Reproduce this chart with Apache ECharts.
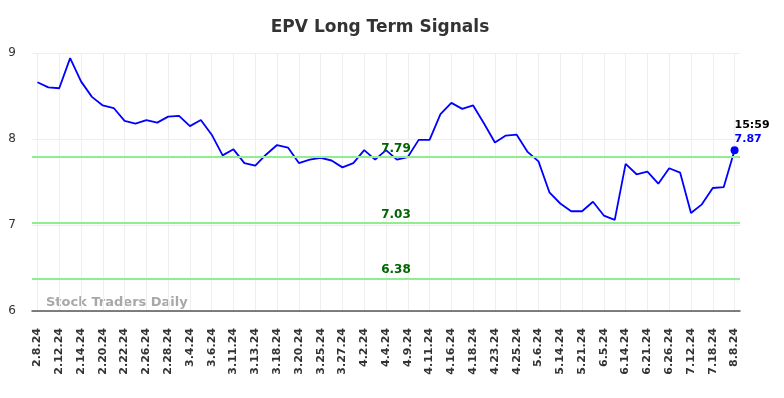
<!DOCTYPE html>
<html>
<head>
<meta charset="utf-8">
<script src="https://cdn.jsdelivr.net/npm/echarts@6/dist/echarts.min.js"></script>
<style>
  html, body { margin: 0; padding: 0; background: #fff; }
  #chart { width: 784px; height: 398px; }
</style>
</head>
<body>
<div id="chart"></div>
<script>
var fechas = ['2.8.24', '2.9.24', '2.12.24', '2.13.24', '2.14.24', '2.16.24', '2.20.24', '2.21.24',
    '2.22.24', '2.23.24', '2.26.24', '2.27.24', '2.28.24', '3.1.24', '3.4.24', '3.5.24',
    '3.6.24', '3.8.24', '3.11.24', '3.12.24', '3.13.24', '3.15.24', '3.18.24', '3.19.24',
    '3.20.24', '3.22.24', '3.25.24', '3.26.24', '3.27.24', '4.1.24', '4.2.24', '4.3.24',
    '4.4.24', '4.8.24', '4.9.24', '4.10.24', '4.11.24', '4.15.24', '4.16.24', '4.17.24',
    '4.18.24', '4.22.24', '4.23.24', '4.24.24', '4.25.24', '5.1.24', '5.6.24', '5.9.24',
    '5.14.24', '5.17.24', '5.21.24', '5.29.24', '6.5.24', '6.10.24', '6.14.24', '6.18.24',
    '6.21.24', '6.25.24', '6.26.24', '7.3.24', '7.12.24', '7.16.24', '7.18.24', '7.26.24',
    '8.8.24'];

var precios = [8.66, 8.60, 8.59, 8.94, 8.67, 8.49, 8.39, 8.36, 8.21, 8.18, 8.22, 8.19,
    8.26, 8.27, 8.15, 8.22, 8.05, 7.81, 7.88, 7.72, 7.69, 7.82, 7.93, 7.90,
    7.72, 7.76, 7.78, 7.75, 7.67, 7.72, 7.87, 7.76, 7.87, 7.76, 7.79, 7.99,
    7.99, 8.29, 8.42, 8.35, 8.39, 8.18, 7.96, 8.04, 8.05, 7.85, 7.74, 7.38,
    7.25, 7.16, 7.16, 7.27, 7.11, 7.06, 7.71, 7.59, 7.62, 7.48, 7.66, 7.61,
    7.14, 7.24, 7.43, 7.44, 7.87];

var niveles = [7.79, 7.03, 6.38];
var horaCierre = '15:59';

var chart = echarts.init(document.getElementById('chart'));

var ultimo = precios.length - 1;

chart.setOption({
    animation: false,
    title: {
        text: 'EPV Long Term Signals',
        left: 375,
        top: 14,
        textAlign: 'center',
        textStyle: {
            fontFamily: 'DejaVu Sans',
            fontSize: 17,
            fontWeight: 'bold',
            color: '#333'
        }
    },
    grid: {
        left: 32,
        right: 44,
        top: 53,
        bottom: 87
    },
    graphic: [{
        type: 'text',
        left: 46,
        top: 296,
        style: {
            text: 'Stock Traders Daily',
            fontFamily: 'DejaVu Sans',
            fontSize: 13,
            fontWeight: 'bold',
            fill: '#a8a8a8'
        }
    }],
    xAxis: {
        type: 'category',
        data: fechas,
        boundaryGap: true,
        axisLine: { lineStyle: { color: '#555', width: 1.5 } },
        axisTick: { show: false, alignWithLabel: true },
        axisLabel: {
            interval: 1,
            rotate: 90,
            fontFamily: 'DejaVu Sans',
            fontSize: 11,
            fontWeight: 'bold',
            color: '#333',
            margin: 17
        },
        splitLine: { show: true, interval: 1, alignWithLabel: true, lineStyle: { color: '#eee' } }
    },
    yAxis: {
        type: 'value',
        min: 6,
        max: 9,
        interval: 1,
        axisLine: { show: false },
        axisTick: { show: false },
        axisLabel: {
            fontFamily: 'DejaVu Sans',
            fontSize: 12,
            color: '#333',
            margin: 16
        },
        splitLine: { lineStyle: { color: '#eee' } }
    },
    series: [{
        type: 'line',
        data: precios,
        showSymbol: false,
        lineStyle: { color: '#0000ff', width: 1.8 },
        itemStyle: { color: '#0000ff' },
        markLine: {
            silent: true,
            symbol: 'none',
            lineStyle: { color: '#90ee90', width: 2, type: 'solid' },
            label: {
                position: 'insideMiddleTop',
                offset: [10, 3],
                formatter: function(p) { return p.value.toFixed(2); },
                fontFamily: 'DejaVu Sans',
                fontSize: 12,
                fontWeight: 'bold',
                color: '#006400'
            },
            data: niveles.map(function(v) { return { yAxis: v }; })
        },
        markPoint: {
            symbol: 'circle',
            symbolSize: 8,
            itemStyle: { color: '#0000ff' },
            label: {
                position: 'top',
                distance: 0,
                align: 'left',
                formatter: function(p) {
                    return '{h|' + horaCierre + '}\n{v|' + p.value.toFixed(2) + '}';
                },
                rich: {
                    h: { fontFamily: 'DejaVu Sans', fontSize: 11, fontWeight: 'bold', color: '#000', lineHeight: 14, align: 'left' },
                    v: { fontFamily: 'DejaVu Sans', fontSize: 11, fontWeight: 'bold', color: '#0000ff', lineHeight: 14, align: 'left' }
                }
            },
            data: [{ coord: [ultimo, precios[ultimo]], value: precios[ultimo] }]
        }
    }]
});
</script>
</body>
</html>
